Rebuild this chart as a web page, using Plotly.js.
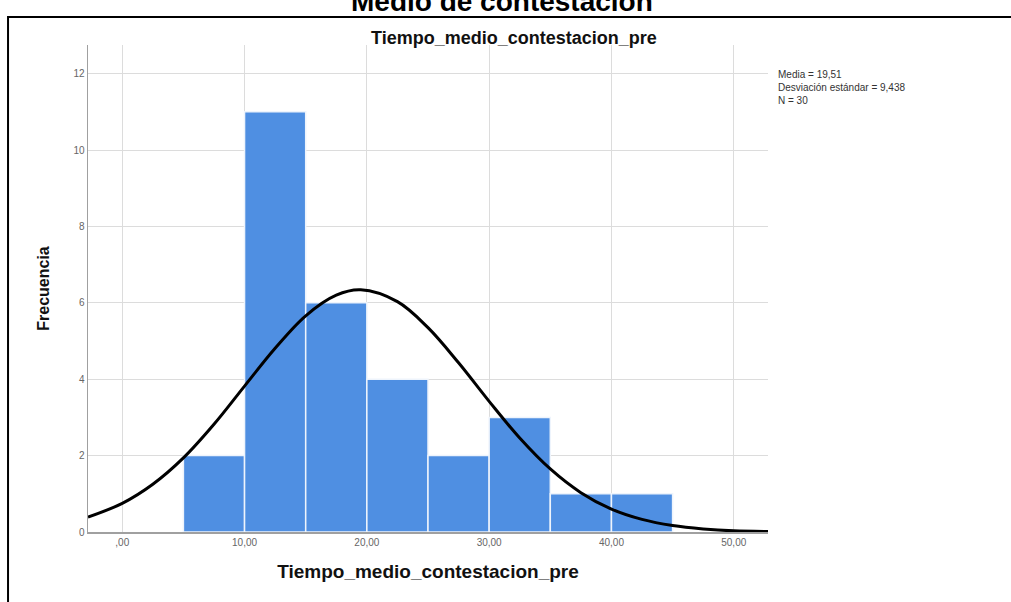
<!DOCTYPE html>
<html>
<head>
<meta charset="utf-8">
<script src="https://cdn.plot.ly/plotly-3.0.1.min.js"></script>
<style>html,body{margin:0;padding:0;background:#fff;}#chart{width:1011px;height:602px;}</style>
</head>
<body>
<div id="chart"></div>
<script>
// Histogram data (bins of width 5)
var binStarts = [5, 10, 15, 20, 25, 30, 35, 40];
var binWidth = 5;
var counts = [2, 11, 6, 4, 2, 3, 1, 1];

// Normal curve
var curveX = [-2.8, 0, 2.5, 5, 7.5, 10, 12.5, 15, 17.5, 19.5, 22.5, 25, 27.5, 30, 32.5, 35, 37.5, 40, 42.5, 45, 47.5, 50, 52.8];
var curveY = [0.39, 0.75, 1.25, 1.94, 2.82, 3.82, 4.81, 5.66, 6.2, 6.34, 6.03, 5.35, 4.43, 3.42, 2.46, 1.65, 1.03, 0.6, 0.33, 0.17, 0.08, 0.03, 0.013];

// Axis ticks
var xTickVals = [0, 10, 20, 30, 40, 50];
var xTickText = [",00", "10,00", "20,00", "30,00", "40,00", "50,00"];
var yTickVals = [0, 2, 4, 6, 8, 10, 12];

var statsText = ["Media = 19,51", "Desviación estándar = 9,438", "N = 30"];
var chartTitle = "Tiempo_medio_contestacion_pre";
var topCaption = "Medio de contestación";

var barX = binStarts.map(function (s) { return s + binWidth / 2; });

var traces = [
  {
    type: 'bar', x: barX, y: counts, width: binWidth,
    marker: {color: '#4f8fe2', line: {color: '#eef4fc', width: 1.5}},
    hoverinfo: 'x+y', showlegend: false
  },
  {
    type: 'scatter', mode: 'lines', x: curveX, y: curveY,
    line: {color: '#000', width: 3, shape: 'spline', smoothing: 1},
    showlegend: false, hoverinfo: 'skip'
  }
];

var layout = {
  width: 1011, height: 602,
  margin: {l: 88, r: 243, t: 45, b: 70},
  paper_bgcolor: '#fff', plot_bgcolor: '#fff',
  font: {family: 'Liberation Sans, Arial, sans-serif', color: '#555'},
  bargap: 0,
  xaxis: {
    range: [-2.8, 52.8], tickvals: xTickVals, ticktext: xTickText,
    showgrid: true, gridcolor: '#dcdcdc', gridwidth: 1,
    zeroline: false, showline: true, linecolor: '#a0a0a0', linewidth: 1.5,
    tickfont: {size: 10, color: '#666'}, ticks: '',
    title: {text: chartTitle, font: {size: 19, color: '#111', family: 'Liberation Sans, Arial, sans-serif', weight: 'bold'}, standoff: 18}
  },
  yaxis: {
    range: [0, 12.75], tickvals: yTickVals,
    showgrid: true, gridcolor: '#dcdcdc', gridwidth: 1,
    zeroline: false, showline: true, linecolor: '#a0a0a0', linewidth: 1.5,
    tickfont: {size: 10, color: '#666'}, ticks: '',
    title: {text: 'Frecuencia', font: {size: 16, color: '#111', family: 'Liberation Sans, Arial, sans-serif', weight: 'bold'}, standoff: 20}
  },
  shapes: [
    {type: 'rect', xref: 'paper', yref: 'paper', x0: -0.1176, x1: 1.5, y0: -0.3, y1: 1.0575,
     line: {color: '#000', width: 2}, fillcolor: 'rgba(0,0,0,0)', layer: 'above'}
  ],
  annotations: [
    {xref: 'paper', yref: 'paper', x: 0.6265, y: 1.0136, xanchor: 'center', yanchor: 'middle', showarrow: false,
     text: '<b>' + chartTitle + '</b>', font: {size: 18, color: '#111'}},
    {xref: 'paper', yref: 'paper', x: 0.6088, y: 1.09, xanchor: 'center', yanchor: 'middle', showarrow: false,
     text: '<b>' + topCaption + '</b>', font: {size: 28, color: '#000'}},
    {xref: 'paper', yref: 'paper', x: 1.0118, y: 0.955, xanchor: 'left', yanchor: 'top', showarrow: false, align: 'left',
     text: statsText.join('<br>'), font: {size: 10, color: '#333'}}
  ]
};

Plotly.newPlot('chart', traces, layout, {displayModeBar: false, staticPlot: true});
</script>
</body>
</html>
